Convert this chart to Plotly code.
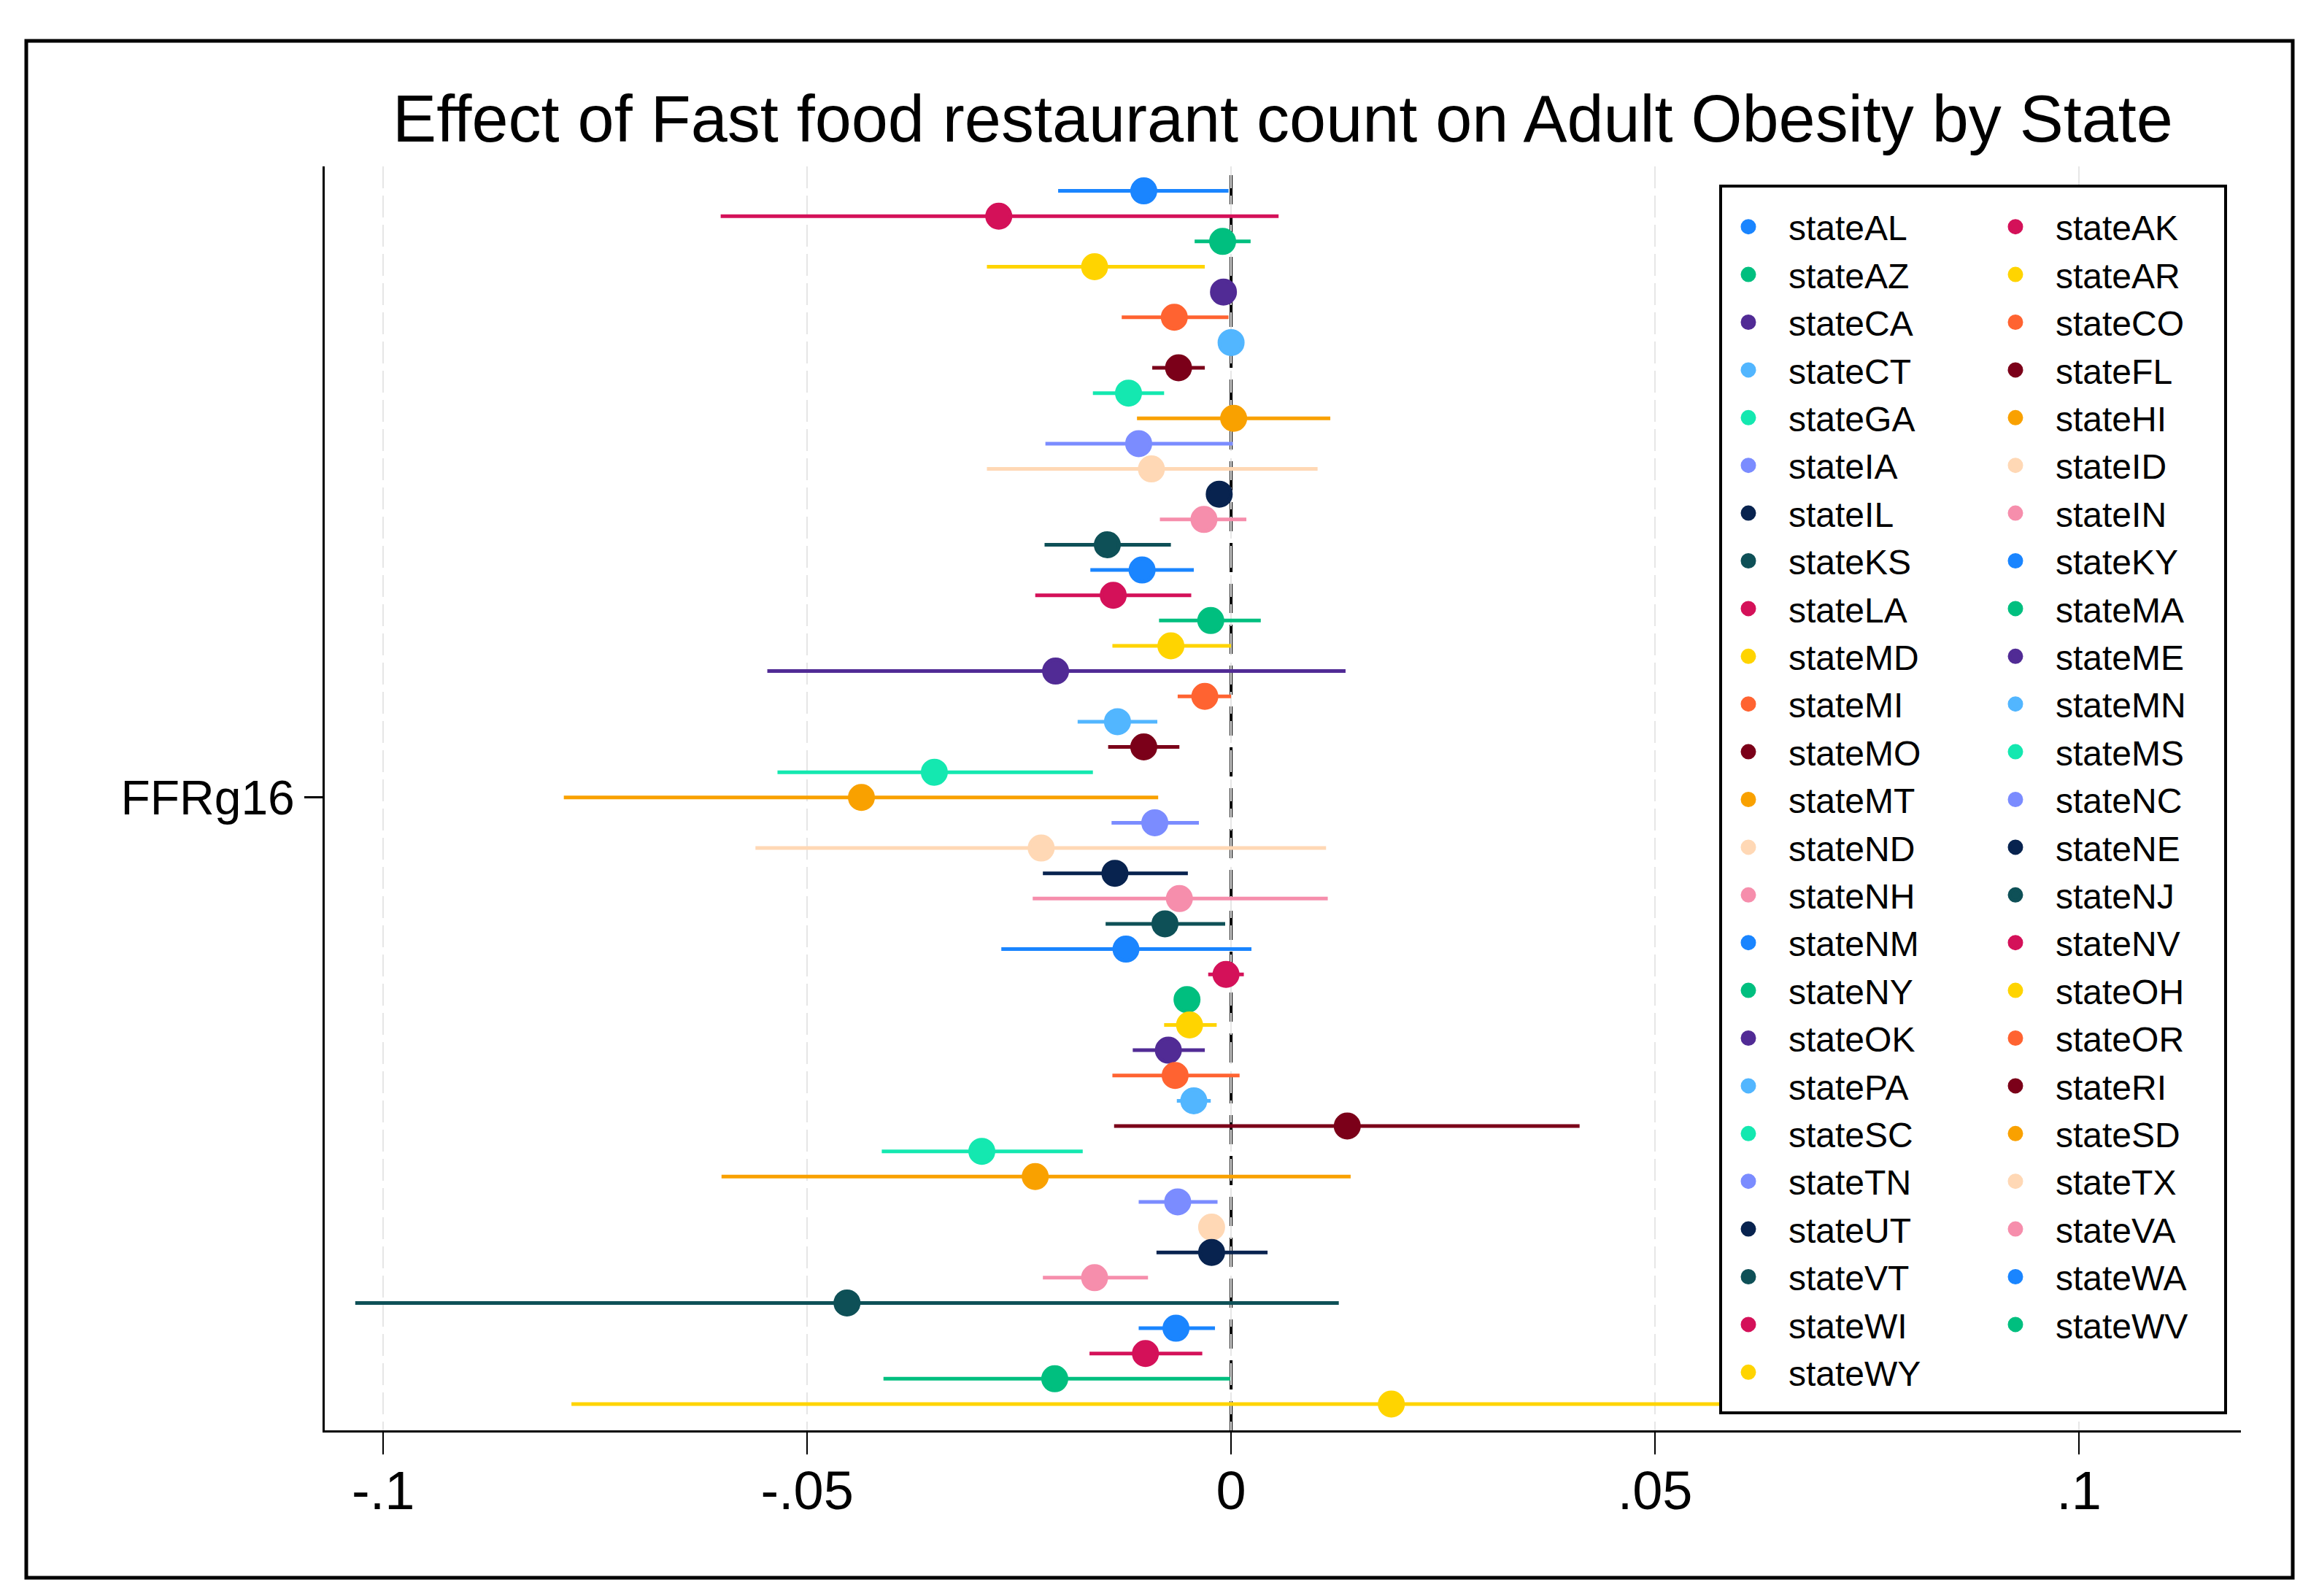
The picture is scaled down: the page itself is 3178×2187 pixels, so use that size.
import plotly.graph_objects as go

# ---------------- data ----------------
states = ["AL", "AK", "AZ", "AR", "CA", "CO", "CT", "FL", "GA", "HI",
          "IA", "ID", "IL", "IN", "KS", "KY", "LA", "MA", "MD", "ME",
          "MI", "MN", "MO", "MS", "MT", "NC", "ND", "NE", "NH", "NJ",
          "NM", "NV", "NY", "OH", "OK", "OR", "PA", "RI", "SC", "SD",
          "TN", "TX", "UT", "VA", "VT", "WA", "WI", "WV", "WY"]

coef = [-0.0103, -0.0274, -0.0010, -0.0161, -0.0009, -0.0067, 0.0000, -0.0062, -0.0121, 0.0003,
        -0.0109, -0.0094, -0.0014, -0.0032, -0.0146, -0.0105, -0.0139, -0.0024, -0.0071, -0.0207,
        -0.0031, -0.0134, -0.0103, -0.0350, -0.0436, -0.0090, -0.0224, -0.0137, -0.0061, -0.0078,
        -0.0124, -0.0006, -0.0052, -0.0049, -0.0074, -0.0066, -0.0044, 0.0137, -0.0294, -0.0231,
        -0.0063, -0.0023, -0.0023, -0.0161, -0.0453, -0.0065, -0.0101, -0.0208, 0.0189]

ci_lo = [-0.0204, -0.0602, -0.0043, -0.0288, -0.0017, -0.0129, -0.0006, -0.0093, -0.0163, -0.0111,
         -0.0219, -0.0288, -0.0022, -0.0084, -0.0220, -0.0166, -0.0231, -0.0085, -0.0140, -0.0547,
         -0.0063, -0.0181, -0.0145, -0.0535, -0.0787, -0.0141, -0.0561, -0.0222, -0.0234, -0.0148,
         -0.0271, -0.0027, -0.0058, -0.0079, -0.0116, -0.0140, -0.0064, -0.0138, -0.0412, -0.0601,
         -0.0109, -0.0032, -0.0088, -0.0222, -0.1033, -0.0109, -0.0167, -0.0410, -0.0778]

ci_hi = [-0.0003, 0.0056, 0.0023, -0.0031, -0.0001, -0.0003, 0.0006, -0.0031, -0.0079, 0.0117,
         0.0002, 0.0102, -0.0003, 0.0018, -0.0071, -0.0044, -0.0047, 0.0035, 0.0000, 0.0135,
         0.0000, -0.0087, -0.0061, -0.0163, -0.0086, -0.0038, 0.0112, -0.0051, 0.0114, -0.0007,
         0.0024, 0.0015, -0.0045, -0.0017, -0.0031, 0.0010, -0.0024, 0.0411, -0.0175, 0.0141,
         -0.0016, -0.0011, 0.0043, -0.0098, 0.0127, -0.0019, -0.0034, -0.0001, 0.1156]

x_ticks = [-0.1, -0.05, 0, 0.05, 0.1]
x_ticklabels = ["-.1", "-.05", "0", ".05", ".1"]
y_ticklabel = "FFRg16"

# ---------------- style ----------------
palette = ["#1a85ff", "#d41159", "#00bf7f", "#ffd400", "#512b95",
           "#ff6331", "#52b6ff", "#7b0019", "#14e8b0", "#f9a100",
           "#7b8cff", "#ffd8b5", "#08234f", "#f68eac", "#0e5057"]

W, H = 3178, 2187
PL, PR, PT, PB = 445, 3071, 228, 1960          # plot area in pixels
x_range = [-0.1069, 0.1191]
y_range = [49.04, -0.97]
FONT = "Liberation Sans, Arial, sans-serif"


def px2paper_x(px):
    return (px - PL) / (PR - PL)


def px2paper_y(py):
    return (PB - py) / (PB - PT)


fig = go.Figure()
n = len(states)
for i, (st, c, lo, hi) in enumerate(zip(states, coef, ci_lo, ci_hi)):
    col = palette[i % len(palette)]
    fig.add_trace(go.Scatter(
        x=[c], y=[i], mode="markers", name="state" + st,
        marker=dict(color=col, size=32, line=dict(width=5, color=col)),
        error_x=dict(type="data", symmetric=False,
                     array=[hi - c], arrayminus=[c - lo],
                     color=col, thickness=5, width=0),
        legend="legend" if i % 2 == 0 else "legend2",
        showlegend=True,
    ))

legend_common = dict(
    font=dict(family=FONT, size=48, color="black"),
    bgcolor="rgba(0,0,0,0)", borderwidth=0,
    orientation="v", traceorder="normal",
    xref="paper", yref="paper",
    xanchor="left", yanchor="top",
    itemwidth=100, itemclick=False, itemdoubleclick=False,
)

fig.update_layout(
    width=W, height=H,
    paper_bgcolor="white", plot_bgcolor="white",
    margin=dict(l=PL, r=W - PR, t=PT, b=H - PB, pad=0, autoexpand=False),
    font=dict(family=FONT, color="black"),
    title=dict(text="Effect of Fast food restaurant count on Adult Obesity by State",
               font=dict(family=FONT, size=90, color="black"),
               x=0.5, xref="paper", xanchor="center",
               y=1 - 162 / H, yref="container", yanchor="middle"),
    legend=dict(x=px2paper_x(2341), y=px2paper_y(273), **legend_common),
    legend2=dict(x=px2paper_x(2707), y=px2paper_y(273), **legend_common),
    xaxis=dict(range=x_range, tickvals=x_ticks, ticktext=x_ticklabels,
               showgrid=True, gridcolor="#e6e6e6", gridwidth=2, griddash="30px,10px",
               zeroline=False, showline=True, linecolor="black", linewidth=3,
               ticks="outside", ticklen=30, tickwidth=2, tickcolor="black",
               tickfont=dict(family=FONT, size=74, color="black"),
               ticklabelstandoff=-14, mirror=False),
    yaxis=dict(range=y_range, tickvals=[(n - 1) / 2], ticktext=[y_ticklabel],
               showgrid=False, zeroline=False, showline=True, linecolor="black",
               linewidth=3, ticks="outside", ticklen=25, tickwidth=3, tickcolor="black",
               tickfont=dict(family=FONT, size=66, color="black"), mirror=False),
    showlegend=True,
)

# dashed reference line at zero
fig.add_shape(type="line", xref="x", yref="y", x0=0, x1=0,
              y0=y_range[0], y1=y_range[1],
              line=dict(color="black", width=4, dash="40px,16px"), layer="below")

# legend frame (white, drawn over the plot, legends sit above it)
fig.add_shape(type="rect", xref="paper", yref="paper",
              x0=px2paper_x(2358), x1=px2paper_x(3050),
              y0=px2paper_y(1936), y1=px2paper_y(255),
              line=dict(color="black", width=4), fillcolor="white", layer="above")

# outer frame around the whole graph
fig.add_shape(type="rect", xref="paper", yref="paper",
              x0=px2paper_x(36), x1=px2paper_x(3142),
              y0=px2paper_y(2162), y1=px2paper_y(56),
              line=dict(color="black", width=5), fillcolor="rgba(0,0,0,0)", layer="above")

fig.write_html("out.html",
               config={"displayModeBar": False},
               post_script="document.body.style.margin='0';document.body.style.overflow='hidden';")
